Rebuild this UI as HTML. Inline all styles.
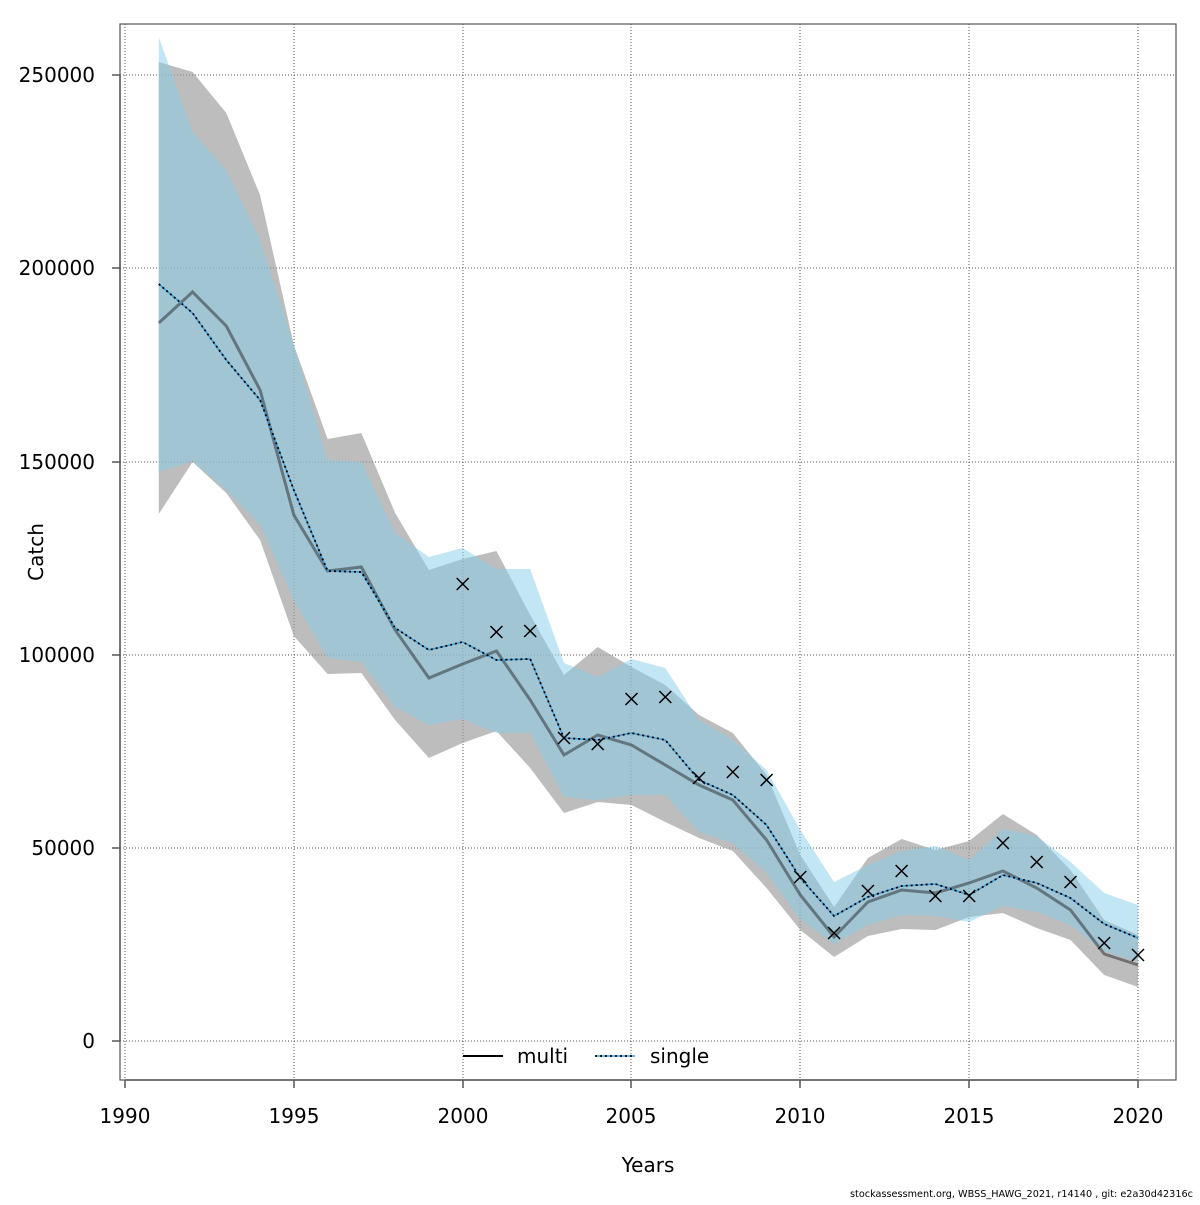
<!DOCTYPE html>
<html><head><meta charset="utf-8"><style>
body{margin:0;background:#fff}
svg text{font-family:"DejaVu Sans","Liberation Sans",sans-serif;fill:#000}
</style></head><body>
<svg width="1200" height="1200" xmlns="http://www.w3.org/2000/svg">
<rect width="1200" height="1200" fill="#fff"/>
<g stroke="#555" stroke-width="1" stroke-dasharray="1,2">
<line x1="125" y1="24" x2="125" y2="1080"/><line x1="294" y1="24" x2="294" y2="1080"/><line x1="463" y1="24" x2="463" y2="1080"/><line x1="631" y1="24" x2="631" y2="1080"/><line x1="800" y1="24" x2="800" y2="1080"/><line x1="969" y1="24" x2="969" y2="1080"/><line x1="1138" y1="24" x2="1138" y2="1080"/>
<line x1="120" y1="1041" x2="1176" y2="1041"/><line x1="120" y1="848" x2="1176" y2="848"/><line x1="120" y1="655" x2="1176" y2="655"/><line x1="120" y1="462" x2="1176" y2="462"/><line x1="120" y1="268" x2="1176" y2="268"/><line x1="120" y1="75" x2="1176" y2="75"/>
</g>
<g transform="translate(125,0) scale(33.767,1)">
<polygon fill="#9a9a9a" fill-opacity="0.65" points="1,62 2,72 3,113 4,195 5,345 6,439 7,433 8,513 9,570 10,559 11,551 12,615 13,675 14,647 15,667 16,685 17,715 18,733 19,775 20,855 21,907 22,858 23,839 24,850 25,841 26,814 27,835 28,870 29,920 30,935 30,987 29,975 28,940 27,928 26,913 25,917 24,930 23,929 22,936 21,957 20,930 19,888 18,851 17,838 16,822 15,805 14,802 13,813 12,768 11,731 10,743 9,758 8,720 7,673 6,674 5,636 4,540 3,493 2,462 1,514"/>
<polygon fill="#87ceeb" fill-opacity="0.5" points="1,37 2,132 3,170 4,240 5,345 6,460 7,462 8,533 9,557 10,548 11,569 12,569 13,663 14,677 15,659 16,668 17,720 18,740 19,770 20,830 21,882 22,865 23,851 24,846 25,860 26,829 27,836 28,862 29,893 30,905 30,962 29,951 28,925 27,912 26,906 25,922 24,916 23,915 22,925 21,944 20,919 19,873 18,843 17,832 16,795 15,795 14,800 13,797 12,733 11,733 10,719 9,725 8,707 7,662 6,658 5,600 4,525 3,490 2,461 1,472"/>
<polyline fill="none" stroke="#000" stroke-opacity="0.4" stroke-width="3" vector-effect="non-scaling-stroke" points="1,323 2,292 3,326 4,390 5,515 6,571 7,567 8,630 9,678 10,664 11,651 12,700 13,755 14,735 15,745 16,765 17,785 18,800 19,840 20,895 21,937 22,902 23,890 24,893 25,883 26,871 27,888 28,910 29,954 30,965"/>
<polyline fill="none" stroke="#3aa0e0" stroke-width="1.5" vector-effect="non-scaling-stroke" points="1,284 2,313 3,360 4,400 5,490 6,571 7,572 8,628 9,650 10,642 11,660 12,659 13,738 14,740 15,733 16,740 17,780 18,795 19,825 20,878 21,916 22,897 23,886 24,884 25,895 26,875 27,883 28,898 29,924 30,938"/>
<polyline fill="none" stroke="#000" stroke-width="1.8" stroke-dasharray="2,3" vector-effect="non-scaling-stroke" points="1,284 2,313 3,360 4,400 5,490 6,571 7,572 8,628 9,650 10,642 11,660 12,659 13,738 14,740 15,733 16,740 17,780 18,795 19,825 20,878 21,916 22,897 23,886 24,884 25,895 26,875 27,883 28,898 29,924 30,938"/>
</g>
<defs><path id="x" d="M-6,-6L6,6M-6,6L6,-6" stroke="#000" stroke-width="1.5"/></defs>
<g>
<use href="#x" x="462.7" y="584"/><use href="#x" x="496.4" y="632"/><use href="#x" x="530.2" y="631"/><use href="#x" x="564" y="738"/><use href="#x" x="597.7" y="744"/><use href="#x" x="631.5" y="699"/><use href="#x" x="665.3" y="697"/><use href="#x" x="699" y="778"/><use href="#x" x="732.8" y="772"/><use href="#x" x="766.6" y="780"/><use href="#x" x="800.3" y="877"/><use href="#x" x="834.1" y="933"/><use href="#x" x="867.9" y="891"/><use href="#x" x="901.6" y="871"/><use href="#x" x="935.4" y="896"/><use href="#x" x="969.2" y="896"/><use href="#x" x="1002.9" y="843"/><use href="#x" x="1036.7" y="862"/><use href="#x" x="1070.5" y="882"/><use href="#x" x="1104.2" y="943"/><use href="#x" x="1138" y="955"/>
</g>
<rect x="120" y="24" width="1056" height="1056" fill="none" stroke="#555" stroke-width="1.2"/>
<g stroke="#555" stroke-width="1.5">
<line x1="120" y1="75" x2="120" y2="1041"/>
<line x1="112" y1="1041" x2="120" y2="1041"/><line x1="112" y1="848" x2="120" y2="848"/><line x1="112" y1="655" x2="120" y2="655"/><line x1="112" y1="462" x2="120" y2="462"/><line x1="112" y1="268" x2="120" y2="268"/><line x1="112" y1="75" x2="120" y2="75"/>
<line x1="125" y1="1080" x2="1138" y2="1080"/>
<line x1="125" y1="1080" x2="125" y2="1088"/><line x1="294" y1="1080" x2="294" y2="1088"/><line x1="463" y1="1080" x2="463" y2="1088"/><line x1="631" y1="1080" x2="631" y2="1088"/><line x1="800" y1="1080" x2="800" y2="1088"/><line x1="969" y1="1080" x2="969" y2="1088"/><line x1="1138" y1="1080" x2="1138" y2="1088"/>
</g>
<g font-size="20" text-anchor="end">
<text x="95" y="1048">0</text><text x="95" y="855">50000</text><text x="95" y="662">100000</text><text x="95" y="469">150000</text><text x="95" y="275">200000</text><text x="95" y="82">250000</text>
</g>
<g font-size="20" text-anchor="middle">
<text x="125" y="1123">1990</text><text x="294" y="1123">1995</text><text x="463" y="1123">2000</text><text x="631" y="1123">2005</text><text x="800" y="1123">2010</text><text x="969" y="1123">2015</text><text x="1138" y="1123">2020</text>
<text x="648" y="1172">Years</text>
<text transform="translate(43,552) rotate(-90)">Catch</text>
</g>
<line x1="463" y1="1056" x2="503" y2="1056" stroke="#000" stroke-width="2"/>
<text x="517" y="1063" font-size="20">multi</text>
<line x1="595" y1="1056" x2="635" y2="1056" stroke="#3aa0e0" stroke-width="1.5"/>
<line x1="595" y1="1056" x2="635" y2="1056" stroke="#000" stroke-width="1.8" stroke-dasharray="2,3"/>
<text x="650" y="1063" font-size="20">single</text>
<text x="1193" y="1197" font-size="10" text-anchor="end" textLength="343" lengthAdjust="spacingAndGlyphs">stockassessment.org, WBSS_HAWG_2021, r14140 , git: e2a30d42316c</text>
</svg>
</body></html>
